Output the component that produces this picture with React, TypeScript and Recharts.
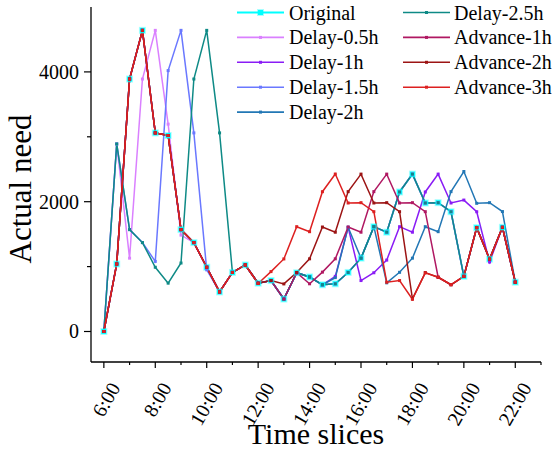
import React from 'react';
import { LineChart, Line, XAxis, YAxis, Legend } from 'recharts';

const FONT = '"Liberation Serif", "Times New Roman", serif';

// time of day in hours
const hours = [6, 6.5, 7, 7.5, 8, 8.5, 9, 9.5, 10, 10.5, 11, 11.5, 12, 12.5, 13, 13.5, 14, 14.5, 15, 15.5, 16, 16.5, 17, 17.5, 18, 18.5, 19, 19.5, 20, 20.5, 21, 21.5, 22];

const original = [0, 1040, 3890, 4640, 3060, 3020, 1570, 1370, 990, 610, 910, 1025, 745, 785, 500, 905, 840, 720, 735, 910, 1130, 1615, 1530, 2150, 2425, 1980, 1985, 1845, 850, 1600, 1115, 1605, 760];
const delay05 = [0, 2890, 1130, 3890, 4640, 3195, 1485, 1370, 990, 610, 910, 1025, 745, 785, 500, 905, 840, 720, 735, 910, 1130, 1615, 1530, 2150, 2425, 1980, 1985, 1845, 850, 1600, 1115, 1605, 760];
const delay1 = [0, 1040, 3890, 4640, 3060, 3020, 1570, 1370, 990, 610, 910, 1025, 745, 785, 500, 905, 840, 720, 850, 1605, 785, 905, 1100, 1615, 1530, 2150, 2425, 1980, 2025, 1845, 1070, 1605, 760];
const delay15 = [0, 2890, 1570, 1370, 1080, 4020, 4640, 3060, 950, 610, 910, 1025, 745, 785, 500, 905, 840, 720, 735, 910, 1130, 1615, 1530, 2150, 2425, 1980, 1985, 1845, 850, 1600, 1115, 1605, 760];
const delay2 = [0, 1040, 3890, 4640, 3060, 3020, 1570, 1370, 990, 610, 910, 1025, 745, 785, 500, 905, 840, 720, 830, 1605, 1130, 1615, 750, 912, 1130, 1615, 1538, 2155, 2465, 1975, 1985, 1848, 760];
const delay25 = [0, 2890, 1570, 1370, 990, 745, 1055, 3890, 4640, 3060, 910, 1025, 745, 785, 500, 905, 840, 720, 735, 910, 1130, 1615, 1530, 2150, 2425, 1980, 1985, 1845, 850, 1600, 1115, 1605, 760];
const advance1 = [0, 1040, 3890, 4640, 3060, 3020, 1570, 1370, 990, 610, 910, 1025, 745, 785, 500, 905, 735, 915, 1120, 1610, 1530, 2155, 2425, 1980, 1985, 1846, 836, 720, 850, 1600, 1115, 1605, 760];
const advance2 = [0, 1040, 3890, 4640, 3060, 3020, 1570, 1370, 990, 610, 910, 1025, 745, 785, 733, 910, 1120, 1610, 1530, 2155, 2425, 1980, 1985, 1846, 503, 908, 836, 720, 850, 1600, 1115, 1605, 760];
const advance3 = [0, 1040, 3890, 4640, 3060, 3020, 1570, 1370, 990, 610, 910, 1025, 740, 923, 1118, 1615, 1538, 2154, 2426, 1980, 1985, 1846, 759, 785, 497, 903, 836, 723, 850, 1600, 1115, 1605, 760];

const xMajorTicks = [6, 8, 10, 12, 14, 16, 18, 20, 22];
const xMinorTicks = [7, 9, 11, 13, 15, 17, 19, 21, 23];
const yMajorTicks = [0, 2000, 4000];
const yMinorTicks = [1000, 3000];

const seriesList = [
  { key: 'original', name: 'Original', values: original, color: '#00FFFF' },
  { key: 'delay05', name: 'Delay-0.5h', values: delay05, color: '#DA80FF' },
  { key: 'delay1', name: 'Delay-1h', values: delay1, color: '#8A1CF5' },
  { key: 'delay15', name: 'Delay-1.5h', values: delay15, color: '#6A78FF' },
  { key: 'delay2', name: 'Delay-2h', values: delay2, color: '#2277B5' },
  { key: 'delay25', name: 'Delay-2.5h', values: delay25, color: '#0E8A86' },
  { key: 'advance1', name: 'Advance-1h', values: advance1, color: '#B01862' },
  { key: 'advance2', name: 'Advance-2h', values: advance2, color: '#9C1414' },
  { key: 'advance3', name: 'Advance-3h', values: advance3, color: '#DD2020' },
];

const data = hours.map((t, i) => {
  const row: any = { t };
  seriesList.forEach((s) => {
    row[s.key] = s.values[i];
  });
  return row;
});

const XTick = (props: any) => {
  const { x, y, payload } = props;
  const v = payload.value;
  const major = xMajorTicks.includes(v);
  const ax = x + 11;
  const ay = y + 22;
  return (
    <g>
      <line x1={x} y1={y} x2={x} y2={y + (major ? 6 : 3)} stroke="#000" strokeWidth={1.2} />
      {major && (
        <text
          x={ax}
          y={ay}
          transform={`rotate(-60, ${ax}, ${ay})`}
          textAnchor="end"
          dominantBaseline="central"
          fontSize={20}
          fontFamily={FONT}
          fill="#000"
        >
          {`${v}:00`}
        </text>
      )}
    </g>
  );
};

const YTick = (props: any) => {
  const { x, y, payload } = props;
  const v = payload.value;
  const major = yMajorTicks.includes(v);
  return (
    <g>
      <line x1={x} y1={y} x2={x - (major ? 7 : 4)} y2={y} stroke="#000" strokeWidth={1.2} />
      {major && (
        <text x={x - 12} y={y} textAnchor="end" dominantBaseline="central" fontSize={20} fontFamily={FONT} fill="#000">
          {v}
        </text>
      )}
    </g>
  );
};

const XTitle = (props: any) => {
  const vb = props.viewBox;
  return (
    <text x={vb.x + vb.width / 2} y={vb.y + 82} textAnchor="middle" fontSize={30} fontFamily={FONT} fill="#000">
      Time slices
    </text>
  );
};

const YTitle = (props: any) => {
  const cx = 20;
  const cy = 189;
  return (
    <text
      x={cx}
      y={cy}
      transform={`rotate(-90, ${cx}, ${cy})`}
      textAnchor="middle"
      dominantBaseline="central"
      fontSize={31}
      fontFamily={FONT}
      fill="#000"
    >
      Actual need
    </text>
  );
};

const smallDot = (color: string) => (p: any) => {
  if (p.cx == null || p.cy == null) return <g key={p.index} />;
  return <rect key={p.index} x={p.cx - 1.5} y={p.cy - 1.5} width={3} height={3} fill={color} />;
};

const bigDot = (color: string) => (p: any) => {
  if (p.cx == null || p.cy == null) return <g key={p.index} />;
  return (
    <g key={p.index}>
      <rect x={p.cx - 3.5} y={p.cy - 3.5} width={7} height={7} fill={color} opacity={0.35} />
      <rect x={p.cx - 2.5} y={p.cy - 2.5} width={5} height={5} fill={color} />
    </g>
  );
};

const LegendContent = () => {
  const col1 = seriesList.slice(0, 5);
  const col2 = seriesList.slice(5);
  const rowY = (k: number) => 12.5 + 24.9 * k;
  const renderItem = (s: any, k: number, x0: number, x1: number, tx: number) => {
    const y = rowY(k);
    const mx = (x0 + x1) / 2;
    return (
      <g key={s.key}>
        <line x1={x0} y1={y} x2={x1} y2={y} stroke={s.color} strokeWidth={s.key === 'original' ? 2 : 1.6} />
        {s.key === 'original' ? (
          <g>
            <rect x={mx - 3.5} y={y - 3.5} width={7} height={7} fill={s.color} opacity={0.35} />
            <rect x={mx - 2.5} y={y - 2.5} width={5} height={5} fill={s.color} />
          </g>
        ) : (
          <rect x={mx - 1.5} y={y - 1.5} width={3} height={3} fill={s.color} />
        )}
        <text x={tx} y={y} dominantBaseline="central" fontSize={20} fontFamily={FONT} fill="#000">
          {s.name}
        </text>
      </g>
    );
  };
  return (
    <svg width={554} height={130} style={{ display: 'block' }}>
      {col1.map((s, k) => renderItem(s, k, 237, 284, 289))}
      {col2.map((s, k) => renderItem(s, k, 403, 450, 454))}
    </svg>
  );
};

export default function App() {
  return (
    <div style={{ position: 'absolute', left: 0, top: 0, width: 554, height: 451, background: '#fff' }}>
      <LineChart width={554} height={451} data={data} margin={{ top: 7, right: 13, bottom: 0, left: 0 }}>
        <XAxis
          type="number"
          dataKey="t"
          domain={[5.5, 23]}
          allowDataOverflow
          ticks={[...xMajorTicks, ...xMinorTicks].sort((a, b) => a - b)}
          interval={0}
          height={89}
          tickSize={0}
          tickMargin={0}
          tickLine={false}
          tick={<XTick />}
          axisLine={{ stroke: '#000', strokeWidth: 1.3 }}
          label={<XTitle />}
        />
        <YAxis
          type="number"
          domain={[-470, 5000]}
          allowDataOverflow
          ticks={[...yMajorTicks, ...yMinorTicks].sort((a, b) => a - b)}
          interval={0}
          width={91}
          tickSize={0}
          tickMargin={0}
          tickLine={false}
          tick={<YTick />}
          axisLine={{ stroke: '#000', strokeWidth: 1.3 }}
          label={<YTitle />}
        />
        <Legend
          layout="vertical"
          align="center"
          verticalAlign="middle"
          content={<LegendContent />}
          wrapperStyle={{ left: 0, top: 0, width: 554, height: 130 }}
        />
        {seriesList.map((s) => (
          <Line
            key={s.key}
            type="linear"
            dataKey={s.key}
            name={s.name}
            stroke={s.color}
            strokeWidth={1.5}
            dot={s.key === 'original' ? bigDot(s.color) : smallDot(s.color)}
            activeDot={false}
            isAnimationActive={false}
          />
        ))}
      </LineChart>
    </div>
  );
}
